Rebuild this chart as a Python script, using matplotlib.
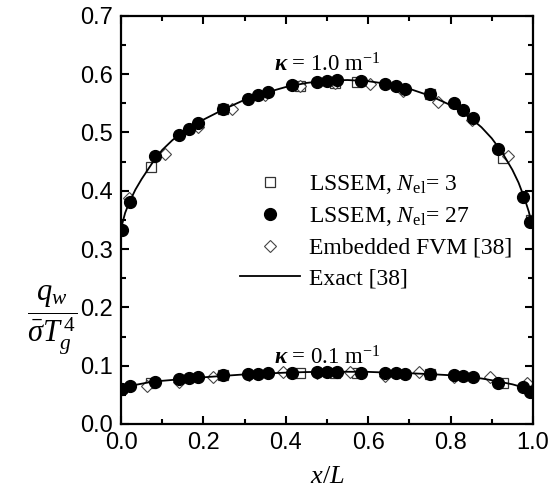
import matplotlib
matplotlib.use("Agg")
import matplotlib.pyplot as plt
from matplotlib.ticker import MultipleLocator, FormatStrFormatter

plt.rcParams["mathtext.fontset"] = "custom"
plt.rcParams["mathtext.rm"] = "Liberation Serif"
plt.rcParams["mathtext.it"] = "Liberation Serif:italic"
plt.rcParams["mathtext.bf"] = "Liberation Serif:bold:italic"

# ---- data -------------------------------------------------------------
# LSSEM, N_el = 27 (same nodes for both absorption coefficients)
x_n27 = [0.002, 0.022, 0.083, 0.141, 0.165, 0.188, 0.248, 0.309, 0.333, 0.356,
         0.416, 0.475, 0.499, 0.524, 0.582, 0.642, 0.667, 0.689, 0.750, 0.808,
         0.831, 0.855, 0.916, 0.975, 0.994]
q_n27_k1 = [0.333, 0.380, 0.460, 0.495, 0.506, 0.517, 0.540, 0.557, 0.564, 0.570,
            0.581, 0.587, 0.589, 0.590, 0.589, 0.583, 0.580, 0.574, 0.566, 0.550,
            0.539, 0.524, 0.471, 0.390, 0.347]
q_n27_k01 = [0.0595, 0.065, 0.0726, 0.0766, 0.078, 0.080, 0.084, 0.0857, 0.0857, 0.087,
             0.088, 0.0895, 0.0895, 0.0895, 0.088, 0.087, 0.087, 0.086, 0.0857, 0.084,
             0.082, 0.080, 0.071, 0.063, 0.054]

# LSSEM, N_el = 3
x_n3 = [0.073, 0.248, 0.434, 0.519, 0.572, 0.750, 0.927, 0.995]
q_n3_k1 = [0.441, 0.540, 0.580, 0.585, 0.586, 0.566, 0.457, 0.350]
q_n3_k01 = [0.071, 0.084, 0.087, 0.088, 0.088, 0.0857, 0.070, 0.058]

# Embedded FVM [38]
x_fvm_k1 = [0.020, 0.107, 0.188, 0.269, 0.350, 0.434, 0.520, 0.604, 0.685, 0.770, 0.851, 0.940]
q_fvm_k1 = [0.388, 0.463, 0.510, 0.541, 0.565, 0.579, 0.585, 0.583, 0.572, 0.553, 0.521, 0.460]
x_fvm_k01 = [0.062, 0.141, 0.224, 0.310, 0.394, 0.475, 0.556, 0.642, 0.724, 0.808, 0.896, 0.985]
q_fvm_k01 = [0.065, 0.072, 0.080, 0.084, 0.0897, 0.087, 0.0897, 0.083, 0.0897, 0.081, 0.080, 0.070]

# Exact [38]
x_exact = [0.0, 0.01, 0.02, 0.035, 0.05, 0.065, 0.08, 0.1, 0.125, 0.15, 0.175, 0.2,
           0.25, 0.3, 0.35, 0.4, 0.45, 0.5, 0.55, 0.6, 0.65, 0.7, 0.75, 0.8,
           0.85, 0.875, 0.9, 0.925, 0.95, 0.965, 0.98, 0.99, 1.0]
q_exact_k1 = [0.335, 0.362, 0.380, 0.402, 0.420, 0.436, 0.452, 0.470, 0.487, 0.500, 0.512, 0.522,
              0.540, 0.556, 0.568, 0.578, 0.585, 0.589, 0.590, 0.588, 0.583, 0.575, 0.563, 0.547,
              0.524, 0.509, 0.490, 0.466, 0.436, 0.414, 0.386, 0.364, 0.335]
q_exact_k01 = [0.058, 0.061, 0.064, 0.067, 0.069, 0.071, 0.0725, 0.074, 0.0755, 0.077, 0.0785, 0.080,
               0.0825, 0.085, 0.0865, 0.088, 0.089, 0.0895, 0.0895, 0.0893, 0.088, 0.087, 0.0855, 0.0835,
               0.080, 0.078, 0.075, 0.0715, 0.068, 0.065, 0.062, 0.059, 0.055]

# ---- figure -----------------------------------------------------------
fig = plt.figure(figsize=(5.5, 4.97), dpi=100)
ax = fig.add_axes([0.22, 0.147, 0.749, 0.821])

for q in (q_exact_k1, q_exact_k01):
    ax.plot(x_exact, q, color="black", lw=1.3, zorder=4)

sq_style = dict(marker="s", ms=7, mfc="white", mec="#333333", mew=0.9, ls="none", zorder=2)
dm_style = dict(marker="D", ms=6.5, mfc="white", mec="#444444", mew=0.8, ls="none", zorder=2)
ci_style = dict(marker="o", ms=8.5, mfc="black", mec="black", ls="none", zorder=3)

ax.plot(x_n3, q_n3_k1, **sq_style)
ax.plot(x_n3, q_n3_k01, **sq_style)
ax.plot(x_fvm_k1, q_fvm_k1, **dm_style)
ax.plot(x_fvm_k01, q_fvm_k01, **dm_style)
ax.plot(x_n27, q_n27_k1, **ci_style)
ax.plot(x_n27, q_n27_k01, **ci_style)

ax.set_xlim(0.0, 1.0)
ax.set_ylim(0.0, 0.7)
ax.xaxis.set_major_locator(MultipleLocator(0.2))
ax.xaxis.set_minor_locator(MultipleLocator(0.1))
ax.yaxis.set_major_locator(MultipleLocator(0.1))
ax.yaxis.set_minor_locator(MultipleLocator(0.05))
ax.xaxis.set_major_formatter(FormatStrFormatter("%.1f"))
ax.yaxis.set_major_formatter(FormatStrFormatter("%.1f"))
ax.tick_params(which="both", direction="in", top=True, right=True, width=1.5)
ax.tick_params(which="major", length=6, labelsize=17, pad=6)
ax.tick_params(which="minor", length=3.5)
for lab in ax.get_xticklabels() + ax.get_yticklabels():
    lab.set_fontfamily("Liberation Sans")
for sp in ax.spines.values():
    sp.set_linewidth(1.6)

ax.set_xlabel(r"$x/L$", fontsize=19, labelpad=6)
fig.text(0.095, 0.355, r"$\dfrac{q_w}{\bar{\sigma}T_g^{\,4}}$", fontsize=22,
         ha="center", va="center")

ax.text(0.5, 0.616, r"$\mathbf{\kappa}$ = 1.0 m$^{\mathrm{-1}}$", fontsize=16.5,
        ha="center", va="center", family="Liberation Serif")
ax.text(0.5, 0.113, r"$\mathbf{\kappa}$ = 0.1 m$^{\mathrm{-1}}$", fontsize=16.5,
        ha="center", va="center", family="Liberation Serif")

# legend
h_sq = plt.Line2D([], [], **sq_style)
h_ci = plt.Line2D([], [], **ci_style)
h_dm = plt.Line2D([], [], **dm_style)
h_ln = plt.Line2D([], [], color="black", lw=1.3)
leg = ax.legend([h_sq, h_ci, h_dm, h_ln],
                [r"LSSEM, $N_{\mathrm{el}}$= 3", r"LSSEM, $N_{\mathrm{el}}$= 27",
                 "Embedded FVM [38]", "Exact [38]"],
                loc="upper left", bbox_to_anchor=(0.289, 0.614), frameon=False,
                prop={"family": "Liberation Serif", "size": 17},
                handlelength=2.55, handletextpad=0.36, labelspacing=0.38,
                borderaxespad=0, borderpad=0)

fig.savefig("out.png", dpi=100)
